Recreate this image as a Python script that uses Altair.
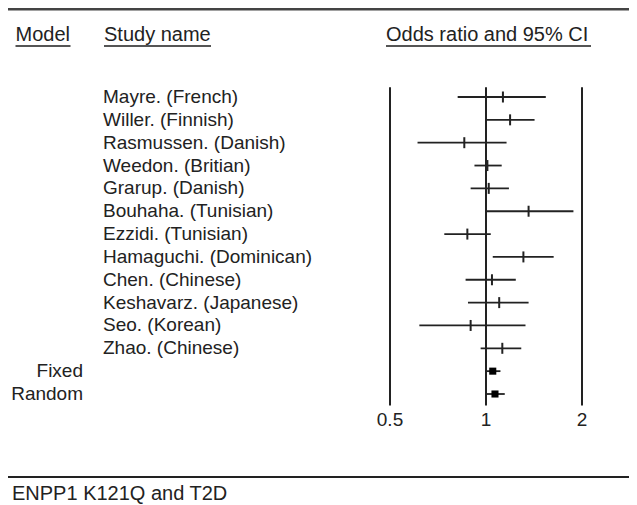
import altair as alt
import pandas as pd

studies = ["Mayre. (French)", "Willer. (Finnish)", "Rasmussen. (Danish)", "Weedon. (Britian)",
           "Grarup. (Danish)", "Bouhaha. (Tunisian)", "Ezzidi. (Tunisian)", "Hamaguchi. (Dominican)",
           "Chen. (Chinese)", "Keshavarz. (Japanese)", "Seo. (Korean)", "Zhao. (Chinese)"]
or_vals = [1.13, 1.19, 0.855, 1.01, 1.02, 1.36, 0.874, 1.31, 1.044, 1.10, 0.895, 1.125]
lo_vals = [0.815, 1.00, 0.61, 0.92, 0.895, 1.00, 0.74, 1.05, 0.863, 0.878, 0.618, 0.962]
hi_vals = [1.54, 1.42, 1.16, 1.12, 1.18, 1.88, 1.035, 1.63, 1.24, 1.36, 1.33, 1.29]

models = ["Fixed", "Random"]
model_or = [1.05, 1.067]
model_lo = [1.005, 1.0]
model_hi = [1.11, 1.145]

tick_vals = [0.5, 1, 2]
tick_labels = ["0.5", "1", "2"]
headers = ["Model", "Study name", "Odds ratio and 95% CI"]
caption = "ENPP1 K121Q and T2D"

FONT = "Liberation Sans"
INK = "#222222"

study_df = pd.DataFrame({"study": studies, "or": or_vals, "lo": lo_vals, "hi": hi_vals,
                         "row": list(range(len(studies)))})
model_df = pd.DataFrame({"model": models, "or": model_or, "lo": model_lo, "hi": model_hi,
                         "row": [len(studies) + i for i in range(len(models))]})
ref_df = pd.DataFrame({"x": tick_vals, "label": tick_labels, "y1": -0.43, "y2": 13.5})

xs = alt.Scale(type="log", domain=[0.5, 2], range=[382, 574], nice=False)
ys = alt.Scale(domain=[0, 13], range=[89, 386], nice=False, zero=False)

ref_lines = alt.Chart(ref_df).mark_rule(color=INK, strokeWidth=2).encode(
    x=alt.X("x:Q", scale=xs, axis=None),
    y=alt.Y("y1:Q", scale=ys, axis=None), y2="y2:Q")
ref_text = alt.Chart(ref_df).mark_text(font=FONT, fontSize=19, color=INK, baseline="middle").encode(
    x=alt.X("x:Q", scale=xs, axis=None), y=alt.value(412), text="label:N")

ci = alt.Chart(study_df).mark_rule(color=INK, strokeWidth=1.8).encode(
    x=alt.X("lo:Q", scale=xs, axis=None), x2="hi:Q",
    y=alt.Y("row:Q", scale=ys, axis=None))
pt = alt.Chart(study_df).mark_tick(color=INK, orient="vertical", size=11, thickness=2, opacity=1).encode(
    x=alt.X("or:Q", scale=xs, axis=None), y=alt.Y("row:Q", scale=ys, axis=None))
study_text = alt.Chart(study_df).mark_text(font=FONT, fontSize=19, color=INK, align="left",
                                           baseline="middle").encode(
    x=alt.value(95), y=alt.Y("row:Q", scale=ys, axis=None), text="study:N")

mci = alt.Chart(model_df).mark_rule(color=INK, strokeWidth=1.8).encode(
    x=alt.X("lo:Q", scale=xs, axis=None), x2="hi:Q",
    y=alt.Y("row:Q", scale=ys, axis=None))
msq = alt.Chart(model_df).mark_square(color="#000000", size=50, opacity=1, filled=True).encode(
    x=alt.X("or:Q", scale=xs, axis=None), y=alt.Y("row:Q", scale=ys, axis=None))
model_text = alt.Chart(model_df).mark_text(font=FONT, fontSize=19, color=INK, align="right",
                                           baseline="middle").encode(
    x=alt.value(75), y=alt.Y("row:Q", scale=ys, axis=None), text="model:N")

one = pd.DataFrame({"k": [0]})
layers = [ref_lines, ref_text, ci, pt, study_text, mci, msq, model_text]

hx = [7.5, 96, 378]
hw = [55, 107, 205]
for h, x0, w in zip(headers, hx, hw):
    layers.append(alt.Chart(one).mark_text(font=FONT, fontSize=20, color=INK, align="left",
                                           baseline="middle", text=h).encode(
        x=alt.value(x0), y=alt.value(27)))
    layers.append(alt.Chart(one).mark_rule(color="#555555", strokeWidth=2).encode(
        x=alt.value(x0), x2=alt.value(x0 + w), y=alt.value(38)))

layers.append(alt.Chart(one).mark_rule(color="#444444", strokeWidth=3).encode(
    x=alt.value(0), x2=alt.value(621), y=alt.value(1)))
layers.append(alt.Chart(one).mark_rule(color="#222222", strokeWidth=2).encode(
    x=alt.value(0), x2=alt.value(621), y=alt.value(469)))
layers.append(alt.Chart(one).mark_text(font=FONT, fontSize=20, color=INK, align="left",
                                       baseline="middle", text=caption).encode(
    x=alt.value(4), y=alt.value(486)))

chart = alt.layer(*layers).properties(
    width=621, height=497, padding=0,
    autosize=alt.AutoSizeParams(type="none"),
).configure_view(strokeWidth=0)

chart.save("out.html", embed_options={"renderer": "svg", "actions": False})
